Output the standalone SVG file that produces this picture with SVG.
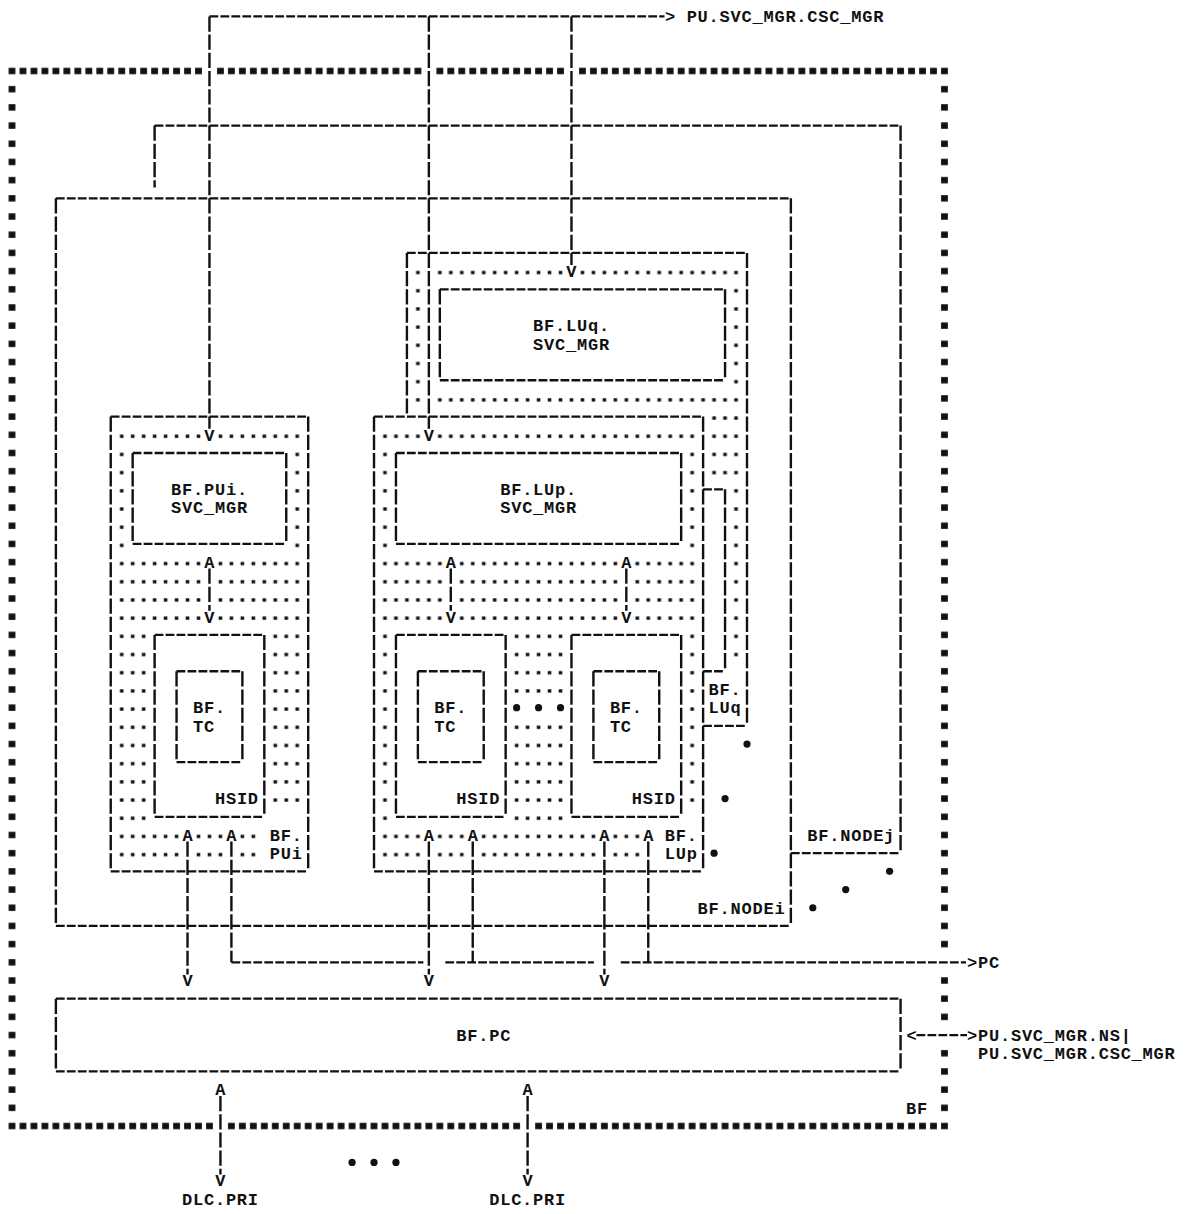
<svg xmlns="http://www.w3.org/2000/svg" width="1185" height="1214" viewBox="0 0 1185 1214">
<style>
.h{fill:none;stroke:#111;stroke-width:2.3;stroke-dasharray:8.8 2.17}
.v{fill:none;stroke:#111;stroke-width:2.4;stroke-dasharray:15.2 2.99}
.t{font-family:"Liberation Mono","DejaVu Sans Mono",monospace;font-size:17px;font-weight:bold;letter-spacing:0.77px;fill:#111}
.a{font-family:"Liberation Mono","DejaVu Sans Mono",monospace;font-size:17px;font-weight:bold;text-anchor:middle;fill:#111}
.dt{fill:url(#dp)}
.bt{fill:url(#bp)}
.big{fill:#111}
</style>
<defs>
<pattern id="dp" patternUnits="userSpaceOnUse" x="6.515" y="61.905" width="10.97" height="18.19">
<rect x="3.7" y="8.9" width="3.6" height="3.3" fill="#111"/>
</pattern>
<pattern id="bp" patternUnits="userSpaceOnUse" x="6.515" y="61.905" width="10.97" height="18.19">
<rect x="2.1" y="5.9" width="6.8" height="6.4" fill="#111"/>
</pattern>
</defs>
<rect width="1185" height="1214" fill="#fff"/>

<g id="BF">
<rect class="bt" x="6.515" y="61.905" width="197.46" height="18.19"/>
<rect class="bt" x="214.945" y="61.905" width="208.43" height="18.19"/>
<rect class="bt" x="434.345" y="61.905" width="131.64" height="18.19"/>
<rect class="bt" x="576.955" y="61.905" width="372.98" height="18.19"/>
<rect class="bt" x="6.515" y="1116.925" width="208.43" height="18.19"/>
<rect class="bt" x="225.915" y="1116.925" width="296.19" height="18.19"/>
<rect class="bt" x="533.075" y="1116.925" width="416.86" height="18.19"/>
<rect class="bt" x="6.515" y="80.095" width="10.97" height="1036.83"/>
<rect class="bt" x="938.965" y="80.095" width="10.97" height="873.12"/>
<rect class="bt" x="938.965" y="971.405" width="10.97" height="54.57"/>
<rect class="bt" x="938.965" y="1044.165" width="10.97" height="72.76"/>
<text class="t" x="906.05" y="1113.63">BF</text>
</g>

<g id="NODEj">
<path class="h" d="M154.61 125.57H900.57M790.87 853.17H900.57"/>
<path class="v" d="M154.61 125.57V187.5M900.57 125.57V853.17"/>
<text class="t" x="807.3" y="840.78">BF.NODEj</text>
</g>

<g id="NODEi">
<path class="h" d="M55.88 198.33H790.87M55.88 925.93H790.87"/>
<path class="v" d="M55.88 198.33V925.93M790.87 198.33V925.93"/>
<text class="t" x="697.6" y="913.54">BF.NODEi</text>
</g>

<g id="PUi">
<path class="h" d="M110.73 416.61H308.19M110.73 871.36H308.19"/>
<path class="v" d="M110.73 416.61V871.36M308.19 416.61V871.36"/>
<rect class="dt" x="116.215" y="425.705" width="87.76" height="18.19"/>
<rect class="dt" x="214.945" y="425.705" width="87.76" height="18.19"/>
<rect class="dt" x="116.215" y="443.895" width="10.97" height="109.14"/>
<rect class="dt" x="291.735" y="443.895" width="10.97" height="109.14"/>
<rect class="dt" x="116.215" y="552.035" width="87.76" height="72.76"/>
<rect class="dt" x="214.945" y="552.035" width="87.76" height="72.76"/>
<rect class="dt" x="116.215" y="624.795" width="32.91" height="200.09"/>
<rect class="dt" x="269.795" y="624.795" width="32.91" height="181.9"/>
<rect class="dt" x="116.215" y="825.885" width="65.82" height="36.38"/>
<rect class="dt" x="192.985" y="825.885" width="32.91" height="36.38"/>
<rect class="dt" x="236.885" y="825.885" width="21.94" height="36.38"/>
<text class="t" x="269.8" y="840.78">BF.</text>
<text class="t" x="269.8" y="858.97">PUi</text>
</g>

<g id="PUi_SVC_MGR">
<path class="h" d="M132.67 452.99H286.25M132.67 543.94H286.25"/>
<path class="v" d="M132.67 452.99V543.94M286.25 452.99V543.94"/>
<text class="t" x="171.06" y="495.17">BF.PUi.</text>
<text class="t" x="171.06" y="513.36">SVC_MGR</text>
</g>

<g id="PUi_HSID">
<path class="h" d="M154.61 634.89H264.31M154.61 816.79H264.31"/>
<path class="v" d="M154.61 634.89V816.79M264.31 634.89V816.79"/>
<text class="t" x="214.95" y="804.4">HSID</text>
</g>

<g id="PUi_TC">
<path class="h" d="M176.55 671.27H242.37M176.55 762.22H242.37"/>
<path class="v" d="M176.55 671.27V762.22M242.37 671.27V762.22"/>
<text class="t" x="193" y="713.45">BF.</text>
<text class="t" x="193" y="731.64">TC</text>
</g>

<g id="LUq">
<path class="h" d="M406.92 252.9H746.99M703.11 725.84H746.99M703.11 489.37H725.05M703.11 671.27H725.05"/>
<path class="v" d="M406.92 252.9V416.61M746.99 252.9V725.84M725.05 489.37V671.27"/>
<rect class="dt" x="412.405" y="262" width="10.97" height="145.52"/>
<rect class="dt" x="434.345" y="262" width="131.64" height="18.19"/>
<rect class="dt" x="576.955" y="262" width="153.58" height="18.19"/>
<rect class="dt" x="730.535" y="262" width="10.97" height="400.18"/>
<rect class="dt" x="434.345" y="389.325" width="296.19" height="18.19"/>
<rect class="dt" x="708.595" y="407.515" width="21.94" height="72.76"/>
<text class="t" x="708.6" y="695.26">BF.</text>
<text class="t" x="708.6" y="713.45">LUq</text>
</g>

<g id="LUq_SVC_MGR">
<path class="h" d="M439.83 289.28H725.05M439.83 380.23H725.05"/>
<path class="v" d="M439.83 289.28V380.23M725.05 289.28V380.23"/>
<text class="t" x="533.1" y="331.46">BF.LUq.</text>
<text class="t" x="533.1" y="349.65">SVC_MGR</text>
</g>

<g id="LUp">
<path class="h" d="M374.01 416.61H703.11M374.01 871.36H703.11"/>
<path class="v" d="M374.01 416.61V871.36M703.11 416.61V871.36"/>
<rect class="dt" x="379.495" y="425.705" width="43.88" height="18.19"/>
<rect class="dt" x="434.345" y="425.705" width="263.28" height="18.19"/>
<rect class="dt" x="379.495" y="443.895" width="10.97" height="109.14"/>
<rect class="dt" x="686.655" y="443.895" width="10.97" height="109.14"/>
<rect class="dt" x="379.495" y="552.035" width="65.82" height="72.76"/>
<rect class="dt" x="456.285" y="552.035" width="164.55" height="72.76"/>
<rect class="dt" x="631.805" y="552.035" width="65.82" height="72.76"/>
<rect class="dt" x="379.495" y="624.795" width="10.97" height="200.09"/>
<rect class="dt" x="686.655" y="624.795" width="10.97" height="181.9"/>
<rect class="dt" x="511.135" y="624.795" width="54.85" height="72.76"/>
<rect class="dt" x="511.135" y="716.745" width="54.85" height="109.14"/>
<rect class="dt" x="379.495" y="825.885" width="43.88" height="36.38"/>
<rect class="dt" x="434.345" y="825.885" width="32.91" height="36.38"/>
<rect class="dt" x="478.225" y="825.885" width="120.67" height="36.38"/>
<rect class="dt" x="609.865" y="825.885" width="32.91" height="36.38"/>
<circle class="big" cx="516.62" cy="707.65" r="3.6"/>
<circle class="big" cx="538.56" cy="707.65" r="3.6"/>
<circle class="big" cx="560.5" cy="707.65" r="3.6"/>
<text class="t" x="664.7" y="840.78">BF.</text>
<text class="t" x="664.7" y="858.97">LUp</text>
</g>

<g id="LUp_SVC_MGR">
<path class="h" d="M395.95 452.99H681.17M395.95 543.94H681.17"/>
<path class="v" d="M395.95 452.99V543.94M681.17 452.99V543.94"/>
<text class="t" x="500.2" y="495.17">BF.LUp.</text>
<text class="t" x="500.2" y="513.36">SVC_MGR</text>
</g>

<g id="LUp_HSID_1">
<path class="h" d="M395.95 634.89H505.65M395.95 816.79H505.65"/>
<path class="v" d="M395.95 634.89V816.79M505.65 634.89V816.79"/>
<text class="t" x="456.3" y="804.4">HSID</text>
</g>
<g id="LUp_TC_1">
<path class="h" d="M417.89 671.27H483.71M417.89 762.22H483.71"/>
<path class="v" d="M417.89 671.27V762.22M483.71 671.27V762.22"/>
<text class="t" x="434.35" y="713.45">BF.</text>
<text class="t" x="434.35" y="731.64">TC</text>
</g>
<g id="LUp_HSID_2">
<path class="h" d="M571.47 634.89H681.17M571.47 816.79H681.17"/>
<path class="v" d="M571.47 634.89V816.79M681.17 634.89V816.79"/>
<text class="t" x="631.8" y="804.4">HSID</text>
</g>
<g id="LUp_TC_2">
<path class="h" d="M593.41 671.27H659.23M593.41 762.22H659.23"/>
<path class="v" d="M593.41 671.27V762.22M659.23 671.27V762.22"/>
<text class="t" x="609.9" y="713.45">BF.</text>
<text class="t" x="609.9" y="731.64">TC</text>
</g>

<g id="PC">
<path class="h" d="M55.88 998.69H900.57M55.88 1071.45H900.57"/>
<path class="v" d="M55.88 998.69V1071.45M900.57 998.69V1071.45"/>
<text class="t" x="456.3" y="1040.87">BF.PC</text>
</g>

<g id="ellipsis">
<circle class="big" cx="746.99" cy="744.03" r="3.6"/>
<circle class="big" cx="725.05" cy="798.6" r="3.6"/>
<circle class="big" cx="714.08" cy="853.17" r="3.6"/>
<circle class="big" cx="889.6" cy="871.36" r="3.6"/>
<circle class="big" cx="845.72" cy="889.55" r="3.6"/>
<circle class="big" cx="812.81" cy="907.74" r="3.6"/>
<circle class="big" cx="352.07" cy="1162.4" r="3.6"/>
<circle class="big" cx="374.01" cy="1162.4" r="3.6"/>
<circle class="big" cx="395.95" cy="1162.4" r="3.6"/>
</g>

<g id="connectors">
<path class="h" d="M209.46 16.43H664.5"/>
<path class="v" d="M209.46 16.43V428.8M428.86 16.43V428.8M571.47 16.43V265"/>
<text class="a" x="670.2" y="22.23">&gt;</text>
<text class="t" x="686.65" y="22.23">PU.SVC_MGR.CSC_MGR</text>
<text class="a" x="209.46" y="440.6">V</text>
<text class="a" x="428.86" y="440.6">V</text>
<text class="a" x="571.47" y="276.89">V</text>

<path class="v" d="M209.46 568.5V610.7M450.8 568.5V610.7M626.32 568.5V610.7"/>
<text class="a" x="209.46" y="567.93">A</text>
<text class="a" x="209.46" y="622.5">V</text>
<text class="a" x="450.8" y="567.93">A</text>
<text class="a" x="450.8" y="622.5">V</text>
<text class="a" x="626.32" y="567.93">A</text>
<text class="a" x="626.32" y="622.5">V</text>

<path class="v" d="M187.52 841.5V974.5M231.4 841.5V962.31M428.86 841.5V974.5M472.74 841.5V962.31M604.38 841.5V974.5M648.26 841.5V962.31"/>
<path class="h" d="M231.4 962.31H423.4M445.3 962.31H593.9M620.8 962.31H966"/>
<text class="a" x="187.52" y="840.78">A</text>
<text class="a" x="231.4" y="840.78">A</text>
<text class="a" x="428.86" y="840.78">A</text>
<text class="a" x="472.74" y="840.78">A</text>
<text class="a" x="604.38" y="840.78">A</text>
<text class="a" x="648.26" y="840.78">A</text>
<text class="a" x="972" y="968.11">&gt;</text>
<text class="t" x="978" y="968.11">PC</text>
<text class="a" x="187.52" y="986.3">V</text>
<text class="a" x="428.86" y="986.3">V</text>
<text class="a" x="604.38" y="986.3">V</text>

<path class="h" d="M916.5 1035.07H967"/>
<text class="a" x="911.54" y="1040.87">&lt;</text>
<text class="a" x="972" y="1040.87">&gt;</text>
<text class="t" x="978" y="1040.87">PU.SVC_MGR.NS|</text>
<text class="t" x="978" y="1059.06">PU.SVC_MGR.CSC_MGR</text>

<path class="v" d="M220.43 1096V1174.6M527.59 1096V1174.6"/>
<text class="a" x="220.43" y="1095.44">A</text>
<text class="a" x="527.59" y="1095.44">A</text>
<text class="a" x="220.43" y="1186.39">V</text>
<text class="a" x="527.59" y="1186.39">V</text>
<text class="t" x="182" y="1204.58">DLC.PRI</text>
<text class="t" x="489.2" y="1204.58">DLC.PRI</text>
</g>
</svg>
